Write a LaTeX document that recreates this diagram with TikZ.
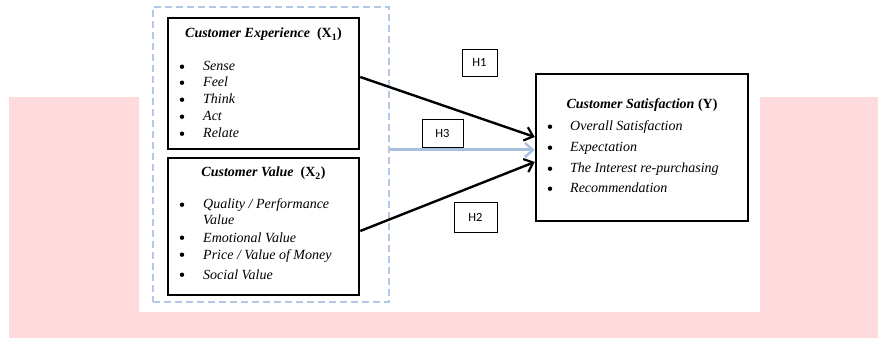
\documentclass[tikz,border=0pt]{standalone}
\usepackage{fontspec}
\setmainfont{Liberation Serif}
\newfontfamily\hfont{Carlito}
\usetikzlibrary{arrows.meta,calc}
\definecolor{pinkbg}{RGB}{254,218,220}
\definecolor{dashblue}{RGB}{178,200,228}
\definecolor{arrowblue}{RGB}{168,192,222}
\tikzset{
  box/.style={draw=black, line width=2.5pt, fill=white, inner sep=0pt},
  grp/.style={draw=dashblue, line width=2pt, dash pattern=on 7pt off 4pt, inner sep=0pt},
  hbox/.style={draw=black, line width=0.7pt, fill=white, inner sep=0pt, font=\hfont\fontsize{12.5}{14}\selectfont},
  ttl/.style={anchor=base, inner sep=0pt, font=\fontsize{14}{17}\selectfont},
  itm/.style={anchor=base west, inner sep=0pt, font=\fontsize{14}{17}\selectfont\itshape},
  bul/.style={circle, fill=black, inner sep=0pt, minimum size=4.4pt, yshift=4.3pt},
  link/.style={line width=2.4pt, -{Straight Barb[length=8pt,width=14pt,line width=2.2pt]}},
  hlink/.style={line width=3pt, draw=arrowblue, -{Straight Barb[length=8pt,width=14pt,line width=2.4pt]}}
}
\begin{document}
\begin{tikzpicture}[x=1pt,y=-1pt]
\useasboundingbox (0,0) rectangle (878,339);
\fill[white] (0,0) rectangle (878,339);
% pink background
\fill[pinkbg] (9,97) rectangle (139,338);
\fill[pinkbg] (760,97) rectangle (878,338);
\fill[pinkbg] (9,312) rectangle (878,338);
\fill[white] (139,0) rectangle (760,312);
% dashed group
\node[grp, minimum width=236pt, minimum height=295pt] (grp) at (271,154.5) {};
% boxes
\node[box, minimum width=191pt, minimum height=131pt] (x1) at (263.5,83.5) {};
\node[box, minimum width=191pt, minimum height=137pt] (x2) at (263.5,226.5) {};
\node[box, minimum width=212pt, minimum height=147pt] (y) at (642,147.5) {};
% connector end points
\coordinate (s1) at ($(x1.east)+(0,-6.5)$);
\coordinate (s2) at ($(x2.east)+(0,4.5)$);
\coordinate (s3) at ($(grp.east)+(0,-4.5)$);
\coordinate (e1) at ($(y.west)+(0,-10.5)$);
\coordinate (e3) at ($(y.west)+(0,2.5)$);
\coordinate (e2) at ($(y.west)+(0,14.5)$);
\draw[link] (s1) -- (e1);
\draw[link] (s2) -- (e2);
\draw[hlink] (s3) -- (e3);
% hypothesis labels
\node[hbox, minimum width=35pt, minimum height=27pt] (h1) at (479.5,62.5) {H1};
\node[hbox, minimum width=41pt, minimum height=28pt] (h3) at (442.5,133) {H3};
\node[hbox, minimum width=43pt, minimum height=30pt] (h2) at (475.5,217) {H2};
% X1 text
\node[ttl] (t1) at (263.5,38) {\bfseries\itshape Customer Experience\ \ \upshape(X\textsubscript{1})};
\node[bul] (b11) at (182,71) {}; \node[itm] (i11) at (203,71) {Sense};
\node[bul] (b12) at (182,87) {}; \node[itm] (i12) at (203,87) {Feel};
\node[bul] (b13) at (182,104) {}; \node[itm] (i13) at (203,104) {Think};
\node[bul] (b14) at (182,121) {}; \node[itm] (i14) at (203,121) {Act};
\node[bul] (b15) at (182,138) {}; \node[itm] (i15) at (203,138) {Relate};
% X2 text
\node[ttl] (t2) at (263.5,177) {\bfseries\itshape Customer Value\ \ \upshape(X\textsubscript{2})};
\node[bul] (b21) at (182,209) {}; \node[itm] (i21) at (203,209) {Quality / Performance};
\node[itm] (i21b) at (203,225) {Value};
\node[bul] (b22) at (182,242) {}; \node[itm] (i22) at (203,242) {Emotional Value};
\node[bul] (b23) at (182,259) {}; \node[itm] (i23) at (203,259) {Price / Value of Money};
\node[bul] (b24) at (182,279) {}; \node[itm] (i24) at (203,279) {Social Value};
% Y text
\node[ttl] (t3) at (642,109) {\bfseries\itshape Customer Satisfaction \upshape(Y)};
\node[bul] (b31) at (550,131) {}; \node[itm] (i31) at (570,131) {Overall Satisfaction};
\node[bul] (b32) at (550,152) {}; \node[itm] (i32) at (570,152) {Expectation};
\node[bul] (b33) at (550,173) {}; \node[itm] (i33) at (570,173) {The Interest re-purchasing};
\node[bul] (b34) at (550,193) {}; \node[itm] (i34) at (570,193) {Recommendation};
\end{tikzpicture}
\end{document}
